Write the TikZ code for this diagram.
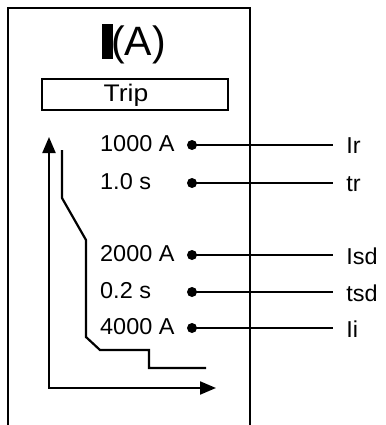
\documentclass[tikz,border=0pt]{standalone}
\usepackage{fontspec}
\setmainfont{Liberation Sans}
\usepackage{tikz}
\usetikzlibrary{arrows.meta,positioning}

\tikzset{
  lbl/.style={font=\fontsize{23}{27}\selectfont,inner sep=0pt,xscale=1.02},
  dot/.style={circle,fill=black,inner sep=0pt,minimum size=10pt},
  wire/.style={line width=2.2pt},
}

\begin{document}
\begin{tikzpicture}[x=1pt,y=-1pt,line join=miter]
  \useasboundingbox (0,0) rectangle (385,425);
  % frame, open at the bottom
  \draw[wire] (8,425) -- (8,8) -- (250,8) -- (250,425);
  \node[fill=black,inner sep=0pt,minimum width=11pt,minimum height=35pt] (bar) at (107.5,41.5) {};
  \node[font=\fontsize{41}{45}\selectfont,inner sep=0pt,anchor=base west] (unit) at (111,56) {(A)};
  \node[draw,line width=2.2pt,minimum width=186pt,minimum height=31pt] (trip) at (135,94.5) {};
  \node[lbl,font=\fontsize{24}{28}\selectfont,xscale=1.08,anchor=base] (triptxt) at (126,102) {Trip};
  % settings
  \foreach \i/\y/\v/\n in {1/145/1000 A/Ir,2/183/1.0 s/tr,3/255/2000 A/Isd,
                           4/292/0.2 s/tsd,5/328/4000 A/Ii}
    {\node[lbl,anchor=base west] (v\i) at (100,\y+6) {\v};
     \node[dot] (d\i) at (192,\y) {};
     \node[lbl,anchor=west,outer xsep=13pt] (n\i) at (333,\y+1) {\n};
     \draw[wire] (d\i.center) -- (n\i.west |- d\i);}
  % trip curve
  \draw[wire] (62,150) -- (62,198) -- (86,240) -- (86,337) -- (100,350)
    -- (149,350) -- (149,368) -- (206,368);
  % axes
  \coordinate (ytop) at (49,137);
  \coordinate (orig) at (49,388);
  \coordinate (xend) at (216,388);
  \draw[wire,{Triangle[length=16pt,width=13pt]}-{Triangle[length=16pt,width=13pt]}]
    (ytop) -- (orig) -- (xend);
\end{tikzpicture}
\end{document}
